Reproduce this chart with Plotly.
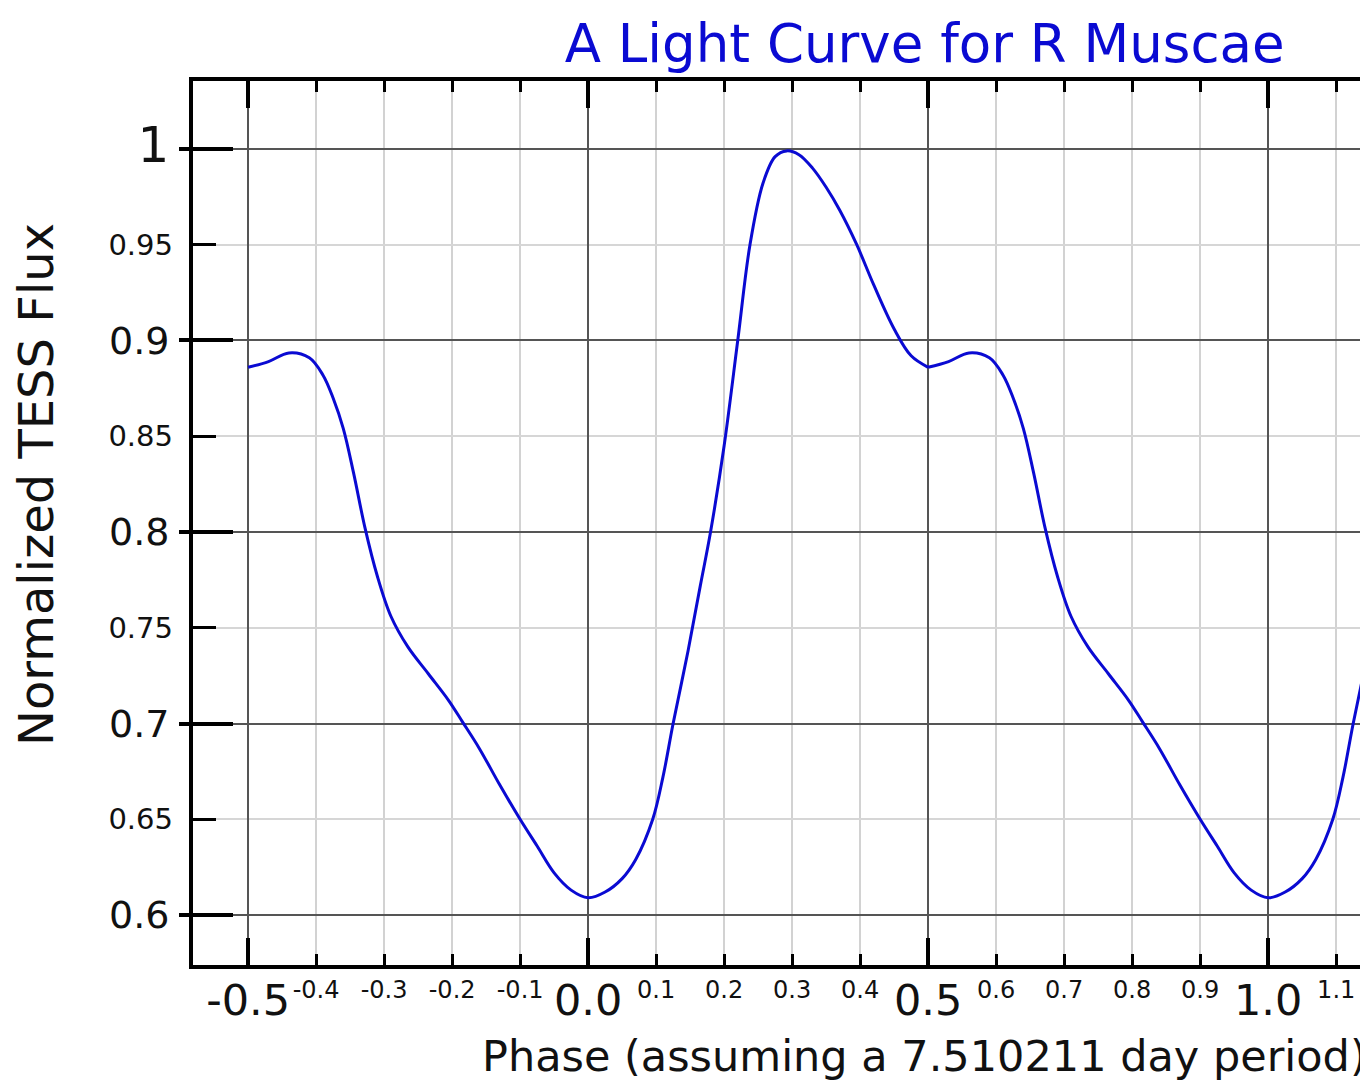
import plotly.graph_objects as go

# One folded cycle of the light curve (phase, normalized flux)
cycle_phase = [-0.50, -0.47, -0.44, -0.41, -0.39, -0.375, -0.36, -0.345, -0.328, -0.31,
               -0.29, -0.265, -0.235, -0.205, -0.185, -0.16, -0.13, -0.10, -0.075, -0.05,
               -0.025, 0.00, 0.025, 0.05, 0.07, 0.095, 0.11, 0.125, 0.147, 0.165,
               0.18, 0.20, 0.22, 0.238, 0.257, 0.275, 0.292, 0.31, 0.33, 0.35,
               0.37, 0.395, 0.42, 0.45, 0.475, 0.50]
cycle_flux = [0.886, 0.889, 0.8935, 0.891, 0.882, 0.870, 0.854, 0.831, 0.802, 0.777,
              0.756, 0.740, 0.726, 0.712, 0.701, 0.687, 0.668, 0.650, 0.636, 0.622,
              0.613, 0.609, 0.612, 0.619, 0.629, 0.650, 0.672, 0.700, 0.738, 0.772,
              0.800, 0.845, 0.900, 0.950, 0.982, 0.996, 0.999, 0.997, 0.990, 0.980,
              0.968, 0.950, 0.929, 0.906, 0.892, 0.886]
cycle_offsets = [0, 1]  # the folded cycle is shown twice

x_major_vals = [-0.5, 0.0, 0.5, 1.0]
x_major_text = ["-0.5", "0.0", "0.5", "1.0"]
x_minor_vals = [-0.4, -0.3, -0.2, -0.1, 0.1, 0.2, 0.3, 0.4, 0.6, 0.7, 0.8, 0.9, 1.1]
x_minor_text = ["-0.4", "-0.3", "-0.2", "-0.1", "0.1", "0.2", "0.3", "0.4",
                "0.6", "0.7", "0.8", "0.9", "1.1"]
y_major_vals = [0.6, 0.7, 0.8, 0.9, 1.0]
y_major_text = ["0.6", "0.7", "0.8", "0.9", '<span style="font-size:50px">1</span>']
y_minor_vals = [0.65, 0.75, 0.85, 0.95]
y_minor_text = ["0.65", "0.75", "0.85", "0.95"]

FONT = "DejaVu Sans"
BLUE = "#0a0ad2"

fig = go.Figure()
for off in cycle_offsets:
    fig.add_trace(go.Scatter(
        x=[p + off for p in cycle_phase], y=cycle_flux, mode="lines",
        line=dict(color=BLUE, width=3, shape="spline", smoothing=1.0),
        showlegend=False, hoverinfo="skip"))

xr = [-0.581, 1.135]
yr = [0.5739, 1.0355]

fig.update_layout(
    width=1360, height=1082,
    margin=dict(l=193, r=0, t=81, b=117),
    paper_bgcolor="white", plot_bgcolor="white",
    font=dict(family=FONT, color="#111"),
    title=dict(text="A Light Curve for R Muscae", font=dict(family=FONT, size=53, color=BLUE),
               xref="paper", x=0.627, xanchor="center",
               yref="container", y=1 - 43 / 1082, yanchor="middle"),
    xaxis=dict(range=xr, tickvals=x_major_vals, ticktext=x_major_text,
               tickfont=dict(size=43), ticks="inside", ticklen=27, tickwidth=4,
               tickcolor="black", showline=True, linewidth=4, linecolor="black",
               mirror="ticks", showgrid=True, gridcolor="#555", gridwidth=2,
               zeroline=False, ticklabelstandoff=-6,
               minor=dict(tickvals=x_minor_vals, ticks="inside", ticklen=11, tickwidth=3,
                          tickcolor="black", showgrid=True, gridcolor="#d2d2d2", gridwidth=1.5)),
    xaxis3=dict(range=xr, matches="x", overlaying="x", anchor="y", side="bottom",
                tickvals=x_minor_vals, ticktext=x_minor_text, tickfont=dict(size=24),
                ticks="", showgrid=False, zeroline=False, showline=False,
                ticklabelstandoff=8),
    yaxis=dict(range=yr, tickvals=y_major_vals, ticktext=y_major_text,
               tickfont=dict(size=38), ticks="inside", ticklen=40, tickwidth=4,
               tickcolor="black", showline=True, linewidth=4, linecolor="black",
               mirror=False, showgrid=True, gridcolor="#555", gridwidth=1.5,
               zeroline=False, ticklabelstandoff=12,
               minor=dict(tickvals=y_minor_vals, ticks="inside", ticklen=23, tickwidth=3,
                          tickcolor="black", showgrid=True, gridcolor="#d6d6d6", gridwidth=1.5)),
    yaxis2=dict(range=yr, matches="y", overlaying="y", anchor="x", side="left",
                tickvals=y_minor_vals, ticktext=y_minor_text, tickfont=dict(size=29),
                ticks="", showgrid=False, zeroline=False, showline=False,
                ticklabelstandoff=19),
    yaxis3=dict(range=yr, matches="y", overlaying="y", anchor="x", side="left",
                tickvals=y_major_vals, showticklabels=False, ticks="outside",
                ticklen=13, tickwidth=4, tickcolor="black",
                showgrid=False, zeroline=False, showline=False),
)

# dummy traces so the overlay axes are drawn
fig.add_trace(go.Scatter(x=[None], y=[None], xaxis="x3", yaxis="y", showlegend=False, hoverinfo="skip"))
fig.add_trace(go.Scatter(x=[None], y=[None], xaxis="x", yaxis="y2", showlegend=False, hoverinfo="skip"))
fig.add_trace(go.Scatter(x=[None], y=[None], xaxis="x", yaxis="y3", showlegend=False, hoverinfo="skip"))

fig.add_annotation(text="Normalized TESS Flux", xref="paper", yref="paper",
                   x=-0.1345, y=0.543, xanchor="center", yanchor="middle",
                   textangle=-90, showarrow=False, font=dict(family=FONT, size=48, color="#111"))
fig.add_annotation(text="Phase (assuming a 7.510211 day period)", xref="paper", yref="paper",
                   x=0.246, y=-0.103, xanchor="left", yanchor="middle",
                   showarrow=False, font=dict(family=FONT, size=43, color="#111"))

fig.write_html("out.html")
